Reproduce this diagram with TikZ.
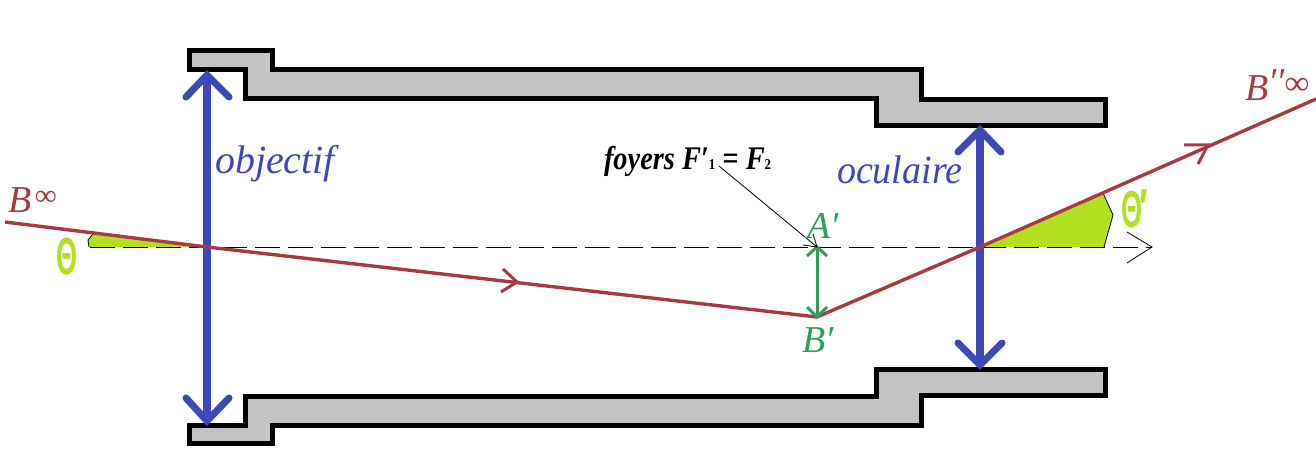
\documentclass[tikz,border=0pt]{standalone}
\usepackage{fontspec}
\setmainfont{Liberation Serif}
\newfontfamily\thetafont{Liberation Sans}
\usetikzlibrary{arrows.meta}
\definecolor{lensblue}{HTML}{3F48B8}
\definecolor{rayred}{HTML}{A83A42}
\definecolor{imggreen}{HTML}{339E5C}
\definecolor{anglegreen}{HTML}{B0E020}
\definecolor{tubegrey}{HTML}{C3C3C3}
\newcommand{\narrowed}[2]{\scalebox{#1}[1]{#2}}
\tikzset{
  tube/.style={draw=black,fill=tubegrey,line width=5pt,miter limit=10},
  lens/.style={draw=lensblue,line width=8.5pt},
  lenshead/.style={draw=lensblue,line width=7pt,line cap=round,line join=miter},
  ray/.style={draw=rayred,line width=3.4pt,line join=round},
  rayhead/.style={draw=rayred,line width=3pt},
  axis/.style={draw=black,line width=1pt,dash pattern=on 25pt off 8pt},
  thinline/.style={draw=black,line width=.8pt},
  imgarrow/.style={draw=imggreen,line width=3pt},
  wedge/.style={fill=anglegreen,draw=none},
  lbl/.style={inner sep=0pt,outer sep=0pt,anchor=base west},
  lenslbl/.style={lbl,text=lensblue,font=\fontsize{40}{40}\selectfont\itshape},
  raylbl/.style={lbl,text=rayred,font=\fontsize{38}{38}\selectfont\itshape},
  imglbl/.style={lbl,text=imggreen,font=\fontsize{38}{38}\selectfont\itshape},
  thetalbl/.style={lbl,text=anglegreen,font=\thetafont\bfseries\fontsize{52}{52}\selectfont},
}
\begin{document}
\begin{tikzpicture}[x=1pt,y=-1pt]
\useasboundingbox (0,0) rectangle (1316,457);
% tube
\draw[tube] (189.5,51)--(272.5,51)--(272.5,69.5)--(921.5,69.5)--(921.5,99.5)--(1105,99.5)--(1105,125.5)--(876,125.5)--(876,98.5)--(245.5,98.5)--(245.5,69.5)--(189.5,69.5)--cycle;
\draw[tube] (189.5,425.5)--(245.5,425.5)--(245.5,396.5)--(876,396.5)--(876,369.5)--(1105,369.5)--(1105,395.5)--(921.5,395.5)--(921.5,425.5)--(272.5,425.5)--(272.5,443)--(189.5,443)--cycle;
% angle wedges
\fill[wedge] (207,247)--(93,234)--(88,240)--(89,247)--cycle;
\fill[wedge] (980,247)--(1103,193)--(1113,215)--(1104,247)--cycle;
\draw[thinline] (93,234)--(88,240)--(89,247);
\draw[thinline] (1103,193)--(1113,215)--(1104,247);
% coordinates
\coordinate (axisL) at (90,247);
\coordinate (axisR) at (1152,247);
\coordinate (rayStart) at (5,222);
\coordinate (objC) at (207,247);
\coordinate (imgB) at (817,317);
\coordinate (imgA) at (817,247);
\coordinate (ocuC) at (980,247);
\coordinate (rayEnd) at (1316,99);
\coordinate (objT) at (207,75);
\coordinate (objB) at (207,421);
\coordinate (ocuT) at (980,130);
\coordinate (ocuB) at (980,365);
% axis
\draw[axis] (axisL)--(axisR);
\draw[thinline] (1127,232)--(axisR)--(1127,263);
% lenses
\draw[lens] (objT)--(objB);
\draw[lens] (ocuT)--(ocuB);
\draw[lenshead] (186,97)--(objT)--(229,97);
\draw[lenshead] (186,398)--(objB)--(229,398);
\draw[lenshead] (958,152)--(ocuT)--(1001,152);
\draw[lenshead] (958,343)--(ocuB)--(1002,343);
% ray
\draw[ray] (rayStart)--(objC)--(imgB)--(ocuC)--(rayEnd);
\draw[rayhead] (503,269)--(517,282)--(501,292);
\draw[rayhead] (1184,145)--(1208,145)--(1198,164);
% image
\draw[imgarrow] (imgA)--(imgB);
\draw[imgarrow] (807,256)--(imgA)--(827,256);
\draw[imgarrow] (807,307)--(imgB)--(827,307);
% pointer
\node[lbl,font=\fontsize{33}{33}\selectfont\itshape\bfseries,text=black] (foy) at (604,170) {\narrowed{.86}{foyers F′\fontsize{15}{15}\selectfont\upshape 1\fontsize{33}{33}\selectfont\itshape{} = F\fontsize{15}{15}\selectfont\upshape 2}};
\coordinate (foyEnd) at (719,166);
\draw[thinline] (foyEnd)--(imgA);
\draw[thinline] (803,245)--(imgA)--(813,234);
% labels
\node[lenslbl] (obj) at (215,174) {objectif};
\node[lenslbl] (ocu) at (837,184) {\narrowed{.95}{oculaire}};
\node[raylbl] (binf) at (9,212) {B\hspace{3pt}\raisebox{7pt}{\fontsize{30}{30}\selectfont ∞}};
\node[raylbl] (bsec) at (1245,101) {B\raisebox{6pt}{′′\fontsize{34}{34}\selectfont ∞}};
\node[imglbl] (ap) at (807,238) {A′};
\node[imglbl] (bp) at (802,352) {B′};
\node[thetalbl] (th) at (56,274) {\narrowed{.52}{Θ}};
\node[thetalbl] (thp) at (1121,227) {\narrowed{.52}{Θ}\hspace{-3pt}\raisebox{2pt}{\narrowed{.7}{′}}};
\end{tikzpicture}
\end{document}
